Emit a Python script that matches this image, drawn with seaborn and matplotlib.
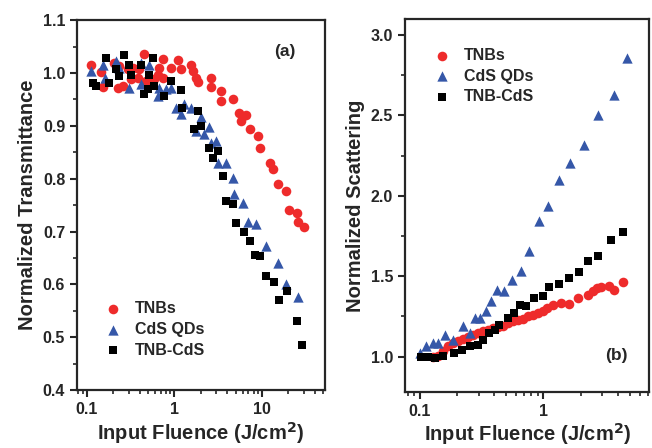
import numpy as np
import pandas as pd
import matplotlib
matplotlib.use('Agg')
import matplotlib.pyplot as plt
import matplotlib.ticker as mticker
import seaborn as sns

# ---- panel (a): normalized transmittance ----
tnb_fa = [0.112, 0.145, 0.152, 0.206, 0.225, 0.235, 0.257, 0.293, 0.320, 0.334,
          0.381, 0.398, 0.454, 0.474, 0.541, 0.590, 0.645, 0.674, 0.736, 0.749,
          0.916, 1.09, 1.19, 1.55, 1.62, 1.77, 1.85, 2.62, 2.62, 3.41,
          3.41, 4.64, 5.53, 6.04, 6.59, 5.78, 7.2, 8.96, 9.6, 12.5,
          13.5, 15.2, 18.9, 20.5, 25.0, 25.7, 30.0]
tnb_ta = [1.016, 1.002, 0.974, 1.019, 0.972, 1.013, 0.975, 1.007, 0.988, 1.010,
          0.991, 1.007, 1.036, 0.985, 0.985, 0.988, 0.997, 1.010, 0.991, 1.026,
          1.010, 1.025, 1.007, 1.015, 1.004, 0.991, 0.983, 0.990, 0.974, 0.966,
          0.947, 0.950, 0.925, 0.919, 0.921, 0.909, 0.894, 0.881, 0.859, 0.830,
          0.818, 0.791, 0.777, 0.740, 0.736, 0.719, 0.708]

cds_fa = [0.112, 0.152, 0.159, 0.216, 0.235, 0.306, 0.417, 0.417, 0.518, 0.645,
          0.674, 0.803, 0.916, 1.046, 1.19, 1.30, 1.55, 2.02, 1.77, 2.20,
          2.51, 2.62, 2.99, 3.13, 3.90, 4.64, 4.85, 6.04, 6.88, 8.58,
          11.2, 15.2, 18.9, 25.7]
cds_ta = [1.004, 1.016, 0.991, 1.023, 1.010, 0.972, 1.019, 0.979, 1.016, 0.957,
          0.972, 0.969, 0.972, 0.934, 0.922, 0.941, 0.934, 0.916, 0.890, 0.884,
          0.897, 0.868, 0.871, 0.830, 0.830, 0.802, 0.771, 0.755, 0.719, 0.714,
          0.673, 0.641, 0.601, 0.577]

mix_fa = [0.116, 0.127, 0.166, 0.181, 0.216, 0.235, 0.268, 0.306, 0.320, 0.417,
          0.454, 0.496, 0.518, 0.565, 0.590, 0.769, 0.916, 1.19, 1.22, 1.85,
          1.69, 2.02, 2.51, 3.13, 2.74, 3.57, 3.90, 4.64, 5.07, 6.31,
          7.39, 8.42, 9.5, 11.2, 13.6, 15.6, 19.4, 25.2, 28.8]
mix_ta = [0.982, 0.975, 1.029, 0.982, 1.007, 0.994, 1.035, 1.016, 0.997, 1.016,
          0.960, 0.969, 0.997, 1.029, 0.975, 0.957, 0.985, 0.967, 0.934, 0.928,
          0.894, 0.900, 0.859, 0.853, 0.840, 0.805, 0.758, 0.752, 0.717, 0.699,
          0.682, 0.655, 0.654, 0.616, 0.605, 0.570, 0.587, 0.531, 0.486]

# ---- panel (b): normalized scattering ----
tnb_fb = [0.128, 0.141, 0.154, 0.169, 0.186, 0.204, 0.223, 0.245, 0.269, 0.295,
          0.324, 0.356, 0.390, 0.428, 0.470, 0.515, 0.565, 0.620, 0.681, 0.747,
          0.820, 0.900, 0.987, 1.08, 1.19, 1.39, 1.62, 1.92, 2.28, 2.50,
          2.74, 2.92, 3.40, 3.74, 4.42]
tnb_sb = [0.995, 1.002, 1.033, 1.064, 1.085, 1.095, 1.110, 1.122, 1.137, 1.147,
          1.157, 1.168, 1.178, 1.184, 1.193, 1.209, 1.219, 1.230, 1.234, 1.250,
          1.261, 1.271, 1.281, 1.302, 1.323, 1.333, 1.329, 1.365, 1.385, 1.406,
          1.427, 1.434, 1.437, 1.416, 1.464]

cds_fb = [0.100, 0.113, 0.128, 0.141, 0.159, 0.186, 0.226, 0.253, 0.278, 0.305,
          0.345, 0.378, 0.420, 0.485, 0.560, 0.661, 0.771, 0.929, 1.10, 1.35,
          1.65, 2.14, 2.78, 3.74, 4.73]
cds_sb = [1.023, 1.064, 1.085, 1.085, 1.137, 1.106, 1.188, 1.147, 1.240, 1.240,
          1.281, 1.343, 1.416, 1.406, 1.478, 1.530, 1.654, 1.840, 1.934, 2.099,
          2.203, 2.317, 2.503, 2.627, 2.859]

mix_fb = [0.103, 0.116, 0.132, 0.154, 0.191, 0.218, 0.253, 0.295, 0.328, 0.367,
          0.403, 0.442, 0.515, 0.583, 0.649, 0.725, 0.846, 0.987, 1.12, 1.35,
          1.62, 1.95, 2.31, 2.78, 3.52, 4.42]
mix_sb = [0.997, 1.000, 0.994, 1.002, 1.023, 1.043, 1.064, 1.075, 1.106, 1.147,
          1.168, 1.199, 1.240, 1.271, 1.323, 1.312, 1.365, 1.375, 1.430, 1.452,
          1.489, 1.524, 1.592, 1.623, 1.722, 1.775]

series_names = ['TNBs', 'CdS QDs', 'TNB-CdS']
colors = ['#ee2b2b', '#3557a8', '#000000']
markers = ['o', '^', 's']
sizes = [48, 55, 40]

sns.set_style('ticks')
plt.rcParams['font.family'] = ['Liberation Sans', 'DejaVu Sans']
plt.rcParams['font.weight'] = 'bold'
plt.rcParams['axes.labelweight'] = 'bold'
plt.rcParams['mathtext.default'] = 'bf'

fig = plt.figure(figsize=(6.52, 4.48), dpi=100)
ax1 = fig.add_axes([0.118, 0.129, 0.380, 0.826])
ax2 = fig.add_axes([0.621, 0.125, 0.375, 0.833])

panel_a = [(tnb_fa, tnb_ta), (cds_fa, cds_ta), (mix_fa, mix_ta)]
panel_b = [(tnb_fb, tnb_sb), (cds_fb, cds_sb), (mix_fb, mix_sb)]

for ax, panel in [(ax1, panel_a), (ax2, panel_b)]:
    for (x, y), name, c, m, s in zip(panel, series_names, colors, markers, sizes):
        df = pd.DataFrame({'fluence': x, 'value': y})
        sns.scatterplot(data=df, x='fluence', y='value', ax=ax, color=c,
                        marker=m, s=s, linewidth=0, label=name)
    ax.set_xscale('log')
    ax.xaxis.set_major_formatter(mticker.FuncFormatter(lambda v, p: f'{v:g}'))
    ax.xaxis.set_minor_formatter(mticker.NullFormatter())
    for sp in ax.spines.values():
        sp.set_linewidth(1.6)
        sp.set_visible(True)
    ax.tick_params(which='major', direction='out', length=5, width=1.5, labelsize=11.5)
    ax.tick_params(which='minor', direction='out', length=3, width=1.2)
    for lbl in ax.get_xticklabels() + ax.get_yticklabels():
        lbl.set_fontweight('bold')
    ax.set_xlabel('Input Fluence (J/cm$^{\\mathbf{2}}$)', fontsize=14.5, fontweight='bold')
    ax.legend(frameon=False, prop={'size': 11.5, 'weight': 'bold'},
              handlelength=1.0, handletextpad=0.9, labelspacing=0.35,
              borderpad=0, borderaxespad=0, loc='upper left')

# panel (a)
ax1.set_xlim(0.077, 52)
ax1.set_ylim(0.4, 1.1)
ax1.yaxis.set_major_locator(mticker.MultipleLocator(0.1))
ax1.yaxis.set_minor_locator(mticker.MultipleLocator(0.05))
ax1.yaxis.set_major_formatter(mticker.FormatStrFormatter('%.1f'))
ax1.set_ylabel('Normalized Transmittance', fontsize=14.5, fontweight='bold')
ax1.legend_.set_bbox_to_anchor((0.113, 0.24))
ax1.text(0.839, 0.916, '(a)', transform=ax1.transAxes, ha='center', va='center',
         fontsize=12.5, fontweight='bold')
ax1.xaxis.set_label_coords(0.5, -0.082)

# panel (b)
ax2.set_xlim(0.076, 7.2)
ax2.set_ylim(0.78, 3.1)
ax2.yaxis.set_major_locator(mticker.MultipleLocator(0.5))
ax2.yaxis.set_minor_locator(mticker.MultipleLocator(0.25))
ax2.yaxis.set_major_formatter(mticker.FormatStrFormatter('%.1f'))
ax2.set_ylabel('Normalized Scattering', fontsize=14.5, fontweight='bold')
ax2.legend_.set_bbox_to_anchor((0.118, 0.922))
ax2.text(0.865, 0.099, '(b)', transform=ax2.transAxes, ha='center', va='center',
         fontsize=12.5, fontweight='bold')
ax2.xaxis.set_label_coords(0.5, -0.079)

fig.savefig('out.png', dpi=100)
